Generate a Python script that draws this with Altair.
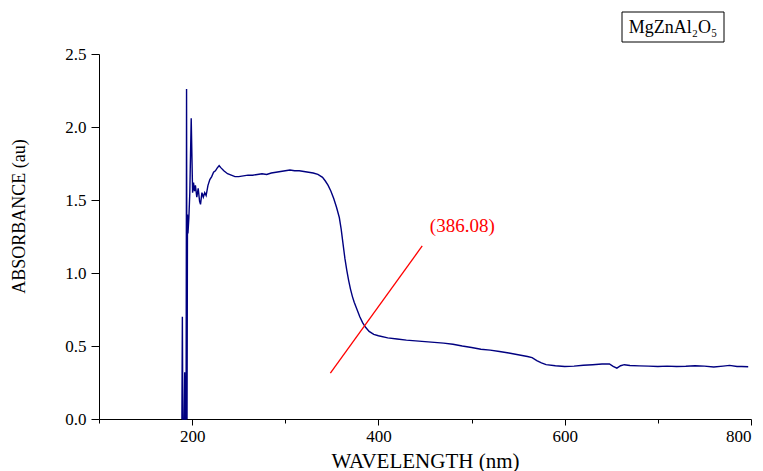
import altair as alt
import pandas as pd

# Spectrum (wavelength nm, absorbance au)
wavelength = [189.0, 189.5, 190.0, 191.5, 192.0, 192.5, 193.5, 194.0, 194.5, 195.0,
              195.5, 196.5, 197.5, 199.0, 200.5, 201.5, 202.5, 203.5, 205.0, 206.5,
              208.0, 209.0, 210.5, 212.0, 213.5, 215.0, 217.0, 219.0, 221.0, 223.0,
              225.0, 227.0, 229.0, 231.0, 234.0, 238.0, 242.0, 246.0, 250.0, 255.0,
              260.0, 265.0, 270.0, 275.0, 280.0, 285.0, 290.0, 295.0, 300.0, 305.0,
              310.0, 315.0, 320.0, 325.0, 330.0, 335.0, 340.0, 343.0, 346.0, 349.0,
              352.0, 355.0, 358.0, 360.0, 362.0, 364.0, 366.0, 368.0, 370.0, 372.0,
              374.0, 377.0, 380.0, 383.0, 386.0, 390.0, 395.0, 400.0, 410.0, 420.0,
              430.0, 440.0, 450.0, 460.0, 470.0, 480.0, 490.0, 500.0, 510.0, 520.0,
              530.0, 540.0, 550.0, 560.0, 565.0, 570.0, 575.0, 580.0, 590.0, 600.0,
              610.0, 620.0, 630.0, 640.0, 648.0, 652.0, 656.0, 660.0, 664.0, 670.0,
              680.0, 690.0, 700.0, 710.0, 720.0, 730.0, 740.0, 750.0, 760.0, 770.0,
              777.0, 785.0, 790.0, 797.0]
absorbance = [0.0, 0.70, 0.0, 0.0, 0.32, 0.0, 0.0, 2.26, 0.0, 1.40,
              1.27, 1.38, 1.55, 2.06, 1.55, 1.62, 1.56, 1.60, 1.52, 1.58,
              1.49, 1.47, 1.55, 1.52, 1.55, 1.53, 1.60, 1.64, 1.66, 1.69,
              1.70, 1.72, 1.735, 1.72, 1.70, 1.68, 1.67, 1.66, 1.66, 1.665,
              1.67, 1.67, 1.675, 1.68, 1.675, 1.685, 1.69, 1.695, 1.70, 1.705,
              1.70, 1.70, 1.695, 1.69, 1.685, 1.675, 1.655, 1.63, 1.60, 1.56,
              1.51, 1.45, 1.38, 1.30, 1.20, 1.10, 1.02, 0.95, 0.89, 0.84,
              0.80, 0.75, 0.70, 0.66, 0.63, 0.60, 0.58, 0.57, 0.556, 0.548,
              0.54, 0.535, 0.53, 0.525, 0.52, 0.512, 0.50, 0.49, 0.478, 0.472,
              0.462, 0.452, 0.44, 0.428, 0.42, 0.40, 0.385, 0.372, 0.365, 0.36,
              0.362, 0.368, 0.372, 0.377, 0.377, 0.36, 0.348, 0.365, 0.372, 0.366,
              0.364, 0.362, 0.36, 0.362, 0.36, 0.361, 0.365, 0.362, 0.356, 0.362,
              0.367, 0.36, 0.36, 0.358]

# Tangent line used to read the band edge
tangent_x = [348.4, 447.0]
tangent_y = [0.315, 1.185]
edge_label = ["(386.08)"]
edge_label_x = [490.0]
edge_label_y = [1.28]

legend_text = ["MgZnAl\u2082O\u2085"]

x_ticks = [100, 200, 300, 400, 500, 600, 700, 800]
y_ticks = [0.0, 0.25, 0.5, 0.75, 1.0, 1.25, 1.5, 1.75, 2.0, 2.25, 2.5]

FONT = "Liberation Serif"

spec = pd.DataFrame({"wl": wavelength, "ab": absorbance, "i": range(len(wavelength))})
tan = pd.DataFrame({"wl": tangent_x, "ab": tangent_y, "i": [0, 1]})
lab = pd.DataFrame({"wl": edge_label_x, "ab": edge_label_y, "t": edge_label})
leg = pd.DataFrame({"t": legend_text})

xscale = alt.Scale(domain=[100, 800], nice=False, zero=False)
yscale = alt.Scale(domain=[0, 2.5], nice=False)

xaxis = alt.Axis(
    values=x_ticks,
    labelExpr="datum.value % 200 == 0 ? datum.label : ''",
    format="d",
    title="WAVELENGTH (nm)",
    titleFontSize=21,
    titleFontWeight="normal",
    titlePadding=6,
    labelFontSize=17,
    labelPadding=3,
    grid=False,
    labelFont=FONT,
    titleFont=FONT,
    tickSize={"condition": {"test": "datum.value % 200 == 0", "value": 6}, "value": 4},
)
yaxis = alt.Axis(
    values=y_ticks,
    labelExpr="(round(datum.value*100) % 50 == 0) ? format(datum.value, '.1f') : ''",
    title="ABSORBANCE (au)",
    titleFontSize=18,
    titleFontWeight="normal",
    titleX=-71,
    titleY=162,
    labelFontSize=17,
    labelPadding=5,
    grid=False,
    labelFont=FONT,
    titleFont=FONT,
    tickSize={"condition": {"test": "round(datum.value*100) % 50 == 0", "value": 8}, "value": 5},
)

line = alt.Chart(spec).mark_line(color="#000080", strokeWidth=1.4).encode(
    x=alt.X("wl:Q", scale=xscale, axis=xaxis),
    y=alt.Y("ab:Q", scale=yscale, axis=yaxis),
    order="i:Q",
)

tangent = alt.Chart(tan).mark_line(color="#ff0000", strokeWidth=1.3).encode(
    x=alt.X("wl:Q", scale=xscale),
    y=alt.Y("ab:Q", scale=yscale),
    order="i:Q",
)

label = alt.Chart(lab).mark_text(color="#ff0000", font=FONT, fontSize=19,
                                 align="center", baseline="alphabetic").encode(
    x=alt.X("wl:Q", scale=xscale),
    y=alt.Y("ab:Q", scale=yscale),
    text="t:N",
)

box = alt.Chart(leg).mark_rect(fill="white", stroke="black", strokeWidth=1).encode(
    x=alt.value(523), x2=alt.value(625), y=alt.value(-42), y2=alt.value(-12)
)
box_text = alt.Chart(leg).mark_text(font=FONT, fontSize=18, color="black",
                                    align="center", baseline="alphabetic").encode(
    x=alt.value(574), y=alt.value(-21), text="t:N"
)

chart = alt.layer(line, tangent, label, box, box_text).properties(
    width=652,
    height=365,
    padding={"left": 99, "top": 54, "right": 12, "bottom": 52},
    autosize=alt.AutoSizeParams(type="none"),
).configure_view(stroke=None).configure_axis(
    grid=False,
    domainColor="black",
    tickColor="black",
    labelColor="black",
    titleColor="black",
    labelFont=FONT,
    titleFont=FONT,
    domainWidth=1,
    tickWidth=1,
)

chart.save("out.html", embed_options={"renderer": "svg", "actions": False})
